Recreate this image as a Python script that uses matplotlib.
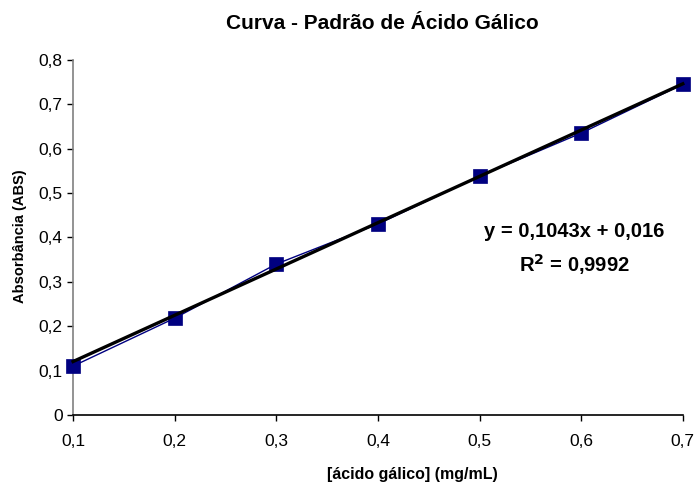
import matplotlib
matplotlib.use("Agg")
import matplotlib.pyplot as plt
import numpy as np

plt.rcParams['font.family'] = ['Liberation Sans', 'DejaVu Sans']

# Gallic acid standard curve
concentration = [0.1, 0.2, 0.3, 0.4, 0.5, 0.6, 0.7]
absorbance = [0.110, 0.218, 0.340, 0.430, 0.538, 0.635, 0.745]

# Linear trend (fitted against point index 1..n)
slope = 0.1043
intercept = 0.016
r_squared = 0.9992

x_ticks = [0.1, 0.2, 0.3, 0.4, 0.5, 0.6, 0.7]
y_ticks = [0, 0.1, 0.2, 0.3, 0.4, 0.5, 0.6, 0.7, 0.8]

def comma(v):
    return ("%g" % v).replace('.', ',')

fig = plt.figure(figsize=(6.96, 4.87), dpi=100)
ax = fig.add_axes([0.105, 0.148, 0.876, 0.729])

ax.plot(concentration, absorbance, color='#000080', lw=1.0,
        marker='s', ms=9.5, mfc='#000080', mec='#000080', mew=0.5, zorder=3)

idx = np.arange(1, len(concentration) + 1)
trend = slope * idx + intercept
ax.plot(concentration, trend, color='black', lw=2.4, zorder=4)

ax.set_xlim(0.1, 0.7)
ax.set_ylim(0, 0.8)
ax.set_xticks(x_ticks)
ax.set_yticks(y_ticks)
ax.set_xticklabels([comma(v) for v in x_ticks])
ax.set_yticklabels([comma(v) for v in y_ticks])
ax.tick_params(direction='out', length=4.5, width=1, labelsize=12.5)
ax.tick_params(axis='x', pad=9.5)
ax.tick_params(axis='y', pad=3)

for s in ['top', 'right']:
    ax.spines[s].set_visible(False)
ax.spines['left'].set_color('#808080')
ax.spines['bottom'].set_color('black')
ax.spines['left'].set_linewidth(1.2)
ax.spines['bottom'].set_linewidth(1.2)

ax.set_xlabel('[ácido gálico] (mg/mL)', fontsize=11.5, fontweight='bold')
ax.set_ylabel('Absorbância (ABS)', fontsize=10.5, fontweight='bold')
ax.xaxis.set_label_coords(0.556, -0.169)
ax.yaxis.set_label_coords(-0.087, 0.503)
ax.xaxis.label.set_va('center')
ax.yaxis.label.set_va('center')

fig.text(0.550, 0.951, 'Curva - Padrão de Ácido Gálico', ha='center', va='center',
         fontsize=15, fontweight='bold')

fig.text(0.825, 0.524, 'y = %sx + %s' % (comma(slope), comma(intercept)),
         ha='center', va='center', fontsize=14.5, fontweight='bold')
fig.text(0.826, 0.456, r'R$^{\mathbf{2}}$ = ' + comma(r_squared),
         ha='center', va='center', fontsize=14.5, fontweight='bold')

for line in ax.lines:
    line.set_clip_on(False)

fig.savefig('out.png', dpi=100)
